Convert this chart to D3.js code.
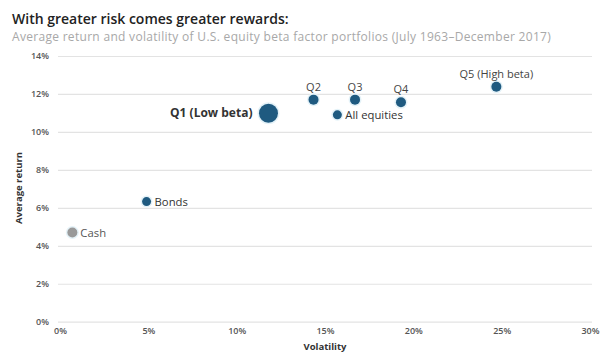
<!DOCTYPE html>
<html><head><meta charset="utf-8">
<script src="https://cdn.jsdelivr.net/npm/d3@7"></script>
<style>
body{margin:0;background:#fff;}
text{font-family:"Open Sans",Lato,sans-serif;}
</style></head>
<body><svg id="c" width="614" height="360"></svg>
<script>
const names = ["Cash","Bonds","Q1 (Low beta)","Q2","Q3","Q4","Q5 (High beta)","All equities"];
const volatility = [0.7, 4.9, 11.8, 14.35, 16.7, 19.3, 24.7, 15.7];
const avgReturn = [4.7, 6.33, 10.98, 11.7, 11.7, 11.56, 12.38, 10.9];
const yTicks = [0,2,4,6,8,10,12,14];
const xTicks = [0,5,10,15,20,25,30];

const FONT = "'Open Sans', Lato, sans-serif";
const svg = d3.select("#c");
const x = d3.scaleLinear().domain([0,30]).range([60,590]);
const y = d3.scaleLinear().domain([0,14]).range([321.7,56]);

svg.append("text").attr("x",12).attr("y",24).attr("font-size",14).attr("font-weight",600).attr("fill","#222")
  .text("With greater risk comes greater rewards:");
svg.append("text").attr("x",12).attr("y",41).attr("font-size",12).attr("letter-spacing",0.3).attr("fill","#a8a8a8")
  .text("Average return and volatility of U.S. equity beta factor portfolios (July 1963–December 2017)");

// grid
const yAxis = d3.axisLeft(y).tickValues(yTicks).tickFormat(d=>d+"%").tickSize(-(592-58)).tickPadding(8);
const gy = svg.append("g").attr("transform","translate(58,0)").call(yAxis);
gy.select(".domain").remove();
gy.selectAll(".tick line").attr("stroke","#e3e3e3").attr("stroke-width",1.2);
gy.selectAll(".tick text").attr("font-size",9).attr("font-weight",600).attr("fill","#555").attr("x",-9).attr("font-family",FONT);

const xAxis = d3.axisBottom(x).tickValues(xTicks).tickFormat(d=>d+"%").tickSize(0).tickPadding(6);
const gx = svg.append("g").attr("transform","translate(0,322)").call(xAxis);
gx.select(".domain").remove();
gx.selectAll(".tick text").attr("font-size",9).attr("font-weight",600).attr("fill","#555").attr("font-family",FONT);

svg.append("text").attr("x",325).attr("y",350).attr("text-anchor","middle").attr("font-size",9.5).attr("font-weight",700).attr("fill","#333").text("Volatility");
svg.append("text").attr("transform","translate(22,188) rotate(-90)").attr("text-anchor","middle").attr("font-size",9.5).attr("font-weight",700).attr("fill","#333").text("Average return");

const data = names.map((n,i)=>({name:n, v:volatility[i], r:avgReturn[i]}));
const blue = "#1f5a80";
const radius = {"Q1 (Low beta)":9.5, "All equities":4.5, "Bonds":4.5};
const color = n => n==="Cash" ? "#999" : blue;

svg.selectAll("circle.halo").data(data).enter().append("circle")
  .attr("cx",d=>x(d.v)).attr("cy",d=>y(d.r)).attr("r",d=>(radius[d.name]||5)+1.5)
  .attr("fill","#e4f2f8");
svg.selectAll("circle.pt").data(data).enter().append("circle")
  .attr("cx",d=>x(d.v)).attr("cy",d=>y(d.r)).attr("r",d=>radius[d.name]||5)
  .attr("fill",d=>color(d.name));

const lab = svg.append("g");
data.forEach(d=>{
  const cx=x(d.v), cy=y(d.r);
  const t = lab.append("text").attr("fill","#333").attr("font-size",11).text(d.name);
  if(d.name==="Q1 (Low beta)"){
    t.attr("x",cx-16).attr("y",cy+4).attr("text-anchor","end").attr("font-weight",700).attr("font-size",12);
  } else if(d.name.startsWith("Q")){
    t.attr("x",cx).attr("y",cy-9).attr("text-anchor","middle").attr("font-size",11).attr("fill","#444");
  } else {
    t.attr("x",cx+8).attr("y",cy+4).attr("font-size",11.3);
    if(d.name==="Cash") t.attr("fill","#555");
  }
});
</script></body></html>
